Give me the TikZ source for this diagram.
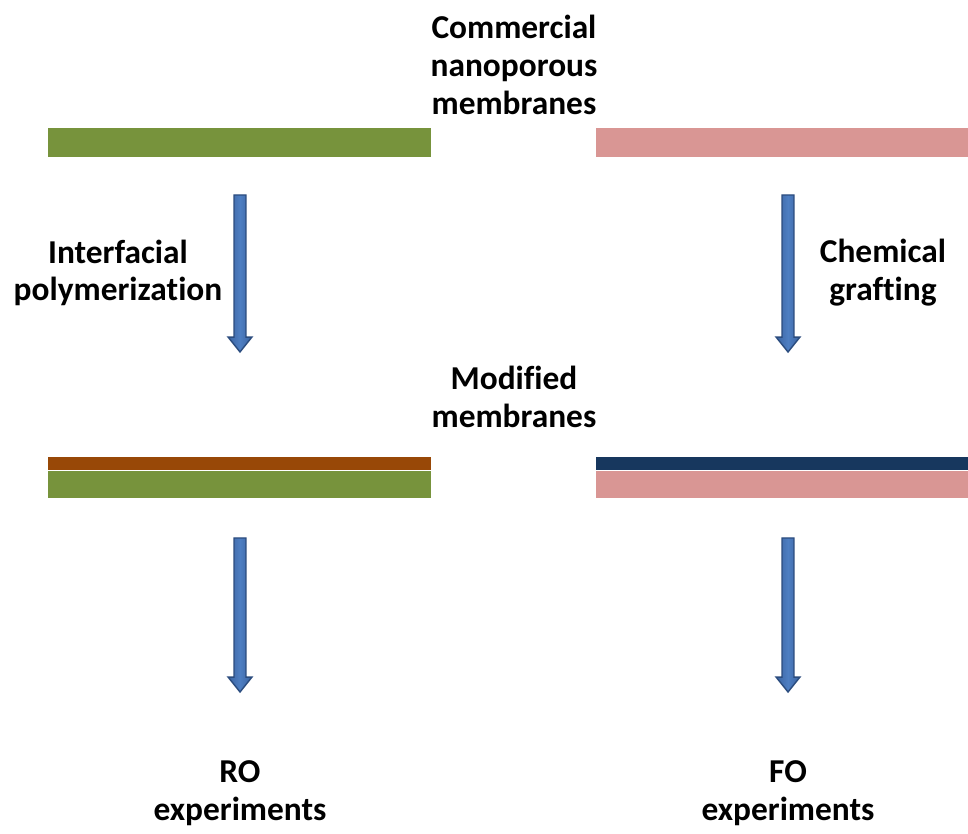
\documentclass[tikz,border=0pt]{standalone}
\usepackage{fontspec}
\setmainfont{Carlito}[Ligatures=NoCommon]
\usetikzlibrary{calc,positioning}
\definecolor{memgreen}{HTML}{77933C}
\definecolor{mempink}{HTML}{D99694}
\definecolor{membrown}{HTML}{984807}
\definecolor{memnavy}{HTML}{17375E}
\definecolor{arrowfill}{HTML}{3C64A0}
\definecolor{arrowedge}{HTML}{2B4C7E}
\definecolor{arrowlight}{HTML}{4E7EC2}
\tikzset{
  bar/.style={rectangle, inner sep=0pt, draw=none, minimum height=0.58cm},
  layer/.style={rectangle, inner sep=0pt, draw=none, minimum height=0.26cm},
  label/.style={font=\fontsize{19}{21.5}\selectfont\bfseries, inner sep=0pt, align=center},
  blockarrow/.style={draw=arrowedge, line width=0.8pt, left color=arrowfill, right color=arrowfill,
    middle color=arrowlight,
    to path={let \p1=(\tikztostart), \p2=(\tikztotarget) in
      (\x1-3.4pt,\y1) -- (\x1+3.4pt,\y1) -- (\x1+3.4pt,\y2+8.5pt) -- (\x1+6.8pt,\y2+8.5pt)
      -- (\x1,\y2) -- (\x1-6.8pt,\y2+8.5pt) -- (\x1-3.4pt,\y2+8.5pt) -- cycle}}
}
\begin{document}
\begin{tikzpicture}[x=0.02cm, y=-0.02cm]
\useasboundingbox (0,0) rectangle (968,834);

% original membranes
\node[bar, fill=memgreen, minimum width=7.66cm] (topleft) at (239.5,142.5) {};
\node[bar, fill=mempink, minimum width=7.44cm] (topright) at (782,142.5) {};
\node[label] (commercial) at (514,65) {Commercial\\nanoporous\\membranes};

% modified membranes
\node[bar, fill=memgreen, minimum width=7.66cm, minimum height=0.54cm] (modleft) at (239.5,484.5) {};
\node[layer, fill=membrown, minimum width=7.66cm, anchor=south] (ipalayer) at (modleft.north) {};
\node[bar, fill=mempink, minimum width=7.44cm, minimum height=0.54cm] (modright) at (782,484.5) {};
\node[layer, fill=memnavy, minimum width=7.44cm, anchor=south] (graftlayer) at (modright.north) {};
\node[label] (modified) at (514,397) {Modified\\membranes};

% arrow ends
\coordinate (a1s) at (240,195);
\coordinate (a1e) at (240,352);
\coordinate (a2s) at (788,195);
\coordinate (a2e) at (788,352);
\coordinate (a3s) at (240,538);
\coordinate (a3e) at (240,692);
\coordinate (a4s) at (788,538);
\coordinate (a4e) at (788,692);

\path[blockarrow] (a1s) to (a1e);
\path[blockarrow] (a2s) to (a2e);
\path[blockarrow] (a3s) to (a3e);
\path[blockarrow] (a4s) to (a4e);

\node[label] (interfacial) at (118,273) {Interfacial\\polymerization};
\node[label] (grafting) at (883,273) {Chemical\\grafting};

% experiments
\node[label] (roexp) at (240,793) {RO\\experiments};
\node[label] (foexp) at (788,793) {FO\\experiments};

\end{tikzpicture}
\end{document}
